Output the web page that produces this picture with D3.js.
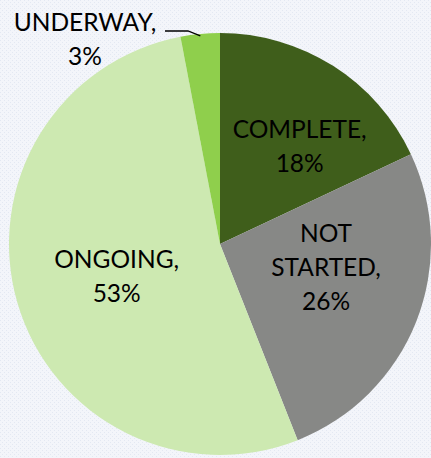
<!DOCTYPE html>
<html>
<head>
<meta charset="utf-8">
<script src="https://cdn.jsdelivr.net/npm/d3@7"></script>
<style>
  html, body { margin: 0; padding: 0; background: #f3f5fa; }
  svg { display: block; }
</style>
</head>
<body>
<svg id="svg"></svg>
<script>
var categories = ["COMPLETE", "NOT STARTED", "ONGOING", "UNDERWAY"];
var values = [18, 26, 53, 3];
var colors = ["#3f5e1b", "#878886", "#cde9b1", "#8fcf4c"];
// label lines per slice (Excel style "NAME,\nNN%")
var labelLines = [["COMPLETE,"], ["NOT", "STARTED,"], ["ONGOING,"], ["UNDERWAY,"]];

var width = 431, height = 458;
var cx = 220, cy = 244, radius = 211;

var svg = d3.select("#svg").attr("width", width).attr("height", height);

// faint dotted background
var defs = svg.append("defs");
var pat = defs.append("pattern").attr("id", "dots")
	.attr("width", 4).attr("height", 4).attr("patternUnits", "userSpaceOnUse");
pat.append("rect").attr("width", 4).attr("height", 4).attr("fill", "#f3f5fa");
pat.append("rect").attr("width", 1).attr("height", 1).attr("fill", "#e3e8f2");
pat.append("rect").attr("x", 2).attr("y", 2).attr("width", 1).attr("height", 1).attr("fill", "#e3e8f2");
svg.append("rect").attr("width", width).attr("height", height).attr("fill", "url(#dots)");

var data = categories.map(function(c, i) { return {name: c, value: values[i], color: colors[i], lines: labelLines[i]}; });

var pie = d3.pie().sort(null).value(function(d) { return d.value; });
var arcs = pie(data);
var arc = d3.arc().innerRadius(0).outerRadius(radius);

var g = svg.append("g").attr("transform", "translate(" + cx + "," + cy + ")");

g.selectAll("path").data(arcs).enter().append("path")
	.attr("d", arc)
	.attr("fill", function(d) { return d.data.color; });

// label anchors: inside labels at ~half radius, outside label for the small slice
var nudge = [[22, -7], [6, -16], [0, 2], [0, 0]];

function labelPos(d, i) {
	if (i === 3) return [-135, -205];
	var a = (d.startAngle + d.endAngle) / 2, r = radius * 0.51;
	return [Math.sin(a) * r + nudge[i][0], -Math.cos(a) * r + nudge[i][1]];
}

var fontSize = 24.5, lineH = 34;
arcs.forEach(function(d, i) {
	var p = labelPos(d, i);
	var lines = d.data.lines.concat([d.data.value + "%"]);
	var y0 = p[1] - (lines.length - 1) * lineH / 2;
	var t = g.append("text")
		.attr("text-anchor", "middle")
		.attr("font-family", "Lato, 'Open Sans', sans-serif")
		.attr("font-size", fontSize)
		.attr("fill", "#000");
	lines.forEach(function(l, k) {
		t.append("tspan").attr("x", p[0]).attr("y", y0 + k * lineH).attr("dy", "0.35em").text(l);
	});
});

// leader line for UNDERWAY
var u = arcs[3];
var mid = (u.startAngle + u.endAngle) / 2;
var ex = Math.sin(mid) * (radius - 2), ey = -Math.cos(mid) * (radius - 2);
g.append("polyline")
	.attr("points", [[-55, -213], [-32, -213], [ex, ey]].map(function(p) { return p.join(","); }).join(" "))
	.attr("fill", "none")
	.attr("stroke", "#000")
	.attr("stroke-width", 1.3);
</script>
</body>
</html>
